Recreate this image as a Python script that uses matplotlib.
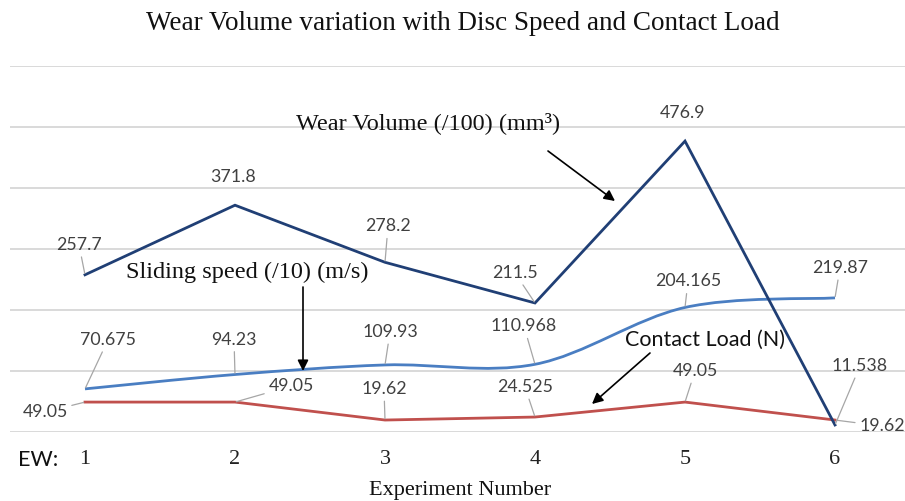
import numpy as np
import matplotlib
matplotlib.use("Agg")
import matplotlib.pyplot as plt
from matplotlib.path import Path
from matplotlib.patches import PathPatch

# ---- data ----
experiments = [1, 2, 3, 4, 5, 6]
tick_labels = ["1", "2", "3", "4", "5", "6"]
wear_volume = [257.7, 371.8, 278.2, 211.5, 476.9, 11.538]
sliding_speed = [70.675, 94.23, 109.93, 110.968, 204.165, 219.87]
contact_load = [49.05, 49.05, 19.62, 24.525, 49.05, 19.62]
wear_labels = ["257.7", "371.8", "278.2", "211.5", "476.9", "11.538"]
speed_labels = ["70.675", "94.23", "109.93", "110.968", "204.165", "219.87"]
load_labels = ["49.05", "49.05", "19.62", "24.525", "49.05", "19.62"]

W, H = 905, 501
fig = plt.figure(figsize=(W / 100, H / 100), dpi=100)

def fx(px):
    return px / W

def fy(py):
    return 1 - py / H

# axes: left 10px, right 905px, top 66px, bottom 432px
ax = fig.add_axes([fx(10), fy(432), fx(905) - fx(10), fy(66) - fy(432)])
ax.set_xlim(0.5, 0.5 + 895 / 150)
ax.set_ylim(0, 600)
ax.set_yticks(np.arange(0, 601, 100))
ax.yaxis.grid(True, color="#D9D9D9", lw=1.4)
ax.set_axisbelow(True)
for s in ax.spines.values():
    s.set_visible(False)
ax.tick_params(axis="y", left=False, labelleft=False)
ax.set_xticks(experiments)
ax.set_xticklabels(tick_labels, fontfamily="Liberation Serif", fontsize=16, color="#222222")
ax.tick_params(axis="x", length=0, pad=13)

C_WEAR = "#203F75"
C_SPEED = "#4A7EC2"
C_LOAD = "#C0504D"

# contact load (straight)
ax.plot(experiments, contact_load, color=C_LOAD, lw=2.0, solid_joinstyle="round", zorder=3)

# sliding speed: smoothed curve (Catmull-Rom style Bezier through the data)
xs = np.array(experiments, dtype=float)
ys = np.array(sliding_speed, dtype=float)
pts = np.column_stack([xs, ys])
n = len(pts)
verts = [tuple(pts[0])]
codes = [Path.MOVETO]
for i in range(n - 1):
    p0 = pts[i - 1] if i > 0 else pts[i]
    p1 = pts[i]
    p2 = pts[i + 1]
    p3 = pts[i + 2] if i + 2 < n else pts[i + 1]
    c1 = p1 + (p2 - p0) / 6.0
    c2 = p2 - (p3 - p1) / 6.0
    verts += [tuple(c1), tuple(c2), tuple(p2)]
    codes += [Path.CURVE4] * 3
ax.add_patch(PathPatch(Path(verts, codes), facecolor="none", edgecolor=C_SPEED, lw=2.0, zorder=4))

# wear volume (straight, on top)
ax.plot(experiments, wear_volume, color=C_WEAR, lw=2.0, solid_joinstyle="miter", zorder=5)

LBL_FONT = dict(fontfamily="Lato", fontsize=12.8, color="#404040")
LEADER = dict(arrowstyle="-", color="#A6A6A6", lw=0.9, shrinkA=1, shrinkB=1)

wear_off = [(-6, 30), (-2, 28), (3, 36), (-20, 30), (-2, 28), (25, 59)]
wear_lead = [True, False, True, True, False, True]
speed_off = [(23, 49), (-1, 35), (5, 33), (-11, 38), (3, 26), (5, 30)]
speed_lead = [True, True, True, True, True, True]
load_off = [(-40, -10), (56, 16), (-1, 31), (-10, 30), (10, 31), (47, -6)]
load_lead = [True, True, True, True, True, True]

def label_series(yvals, labels, offs, leads):
    for x, y, t, o, ld in zip(experiments, yvals, labels, offs, leads):
        ax.annotate(t, xy=(x, y), xytext=o, textcoords="offset pixels",
                    ha="center", va="center", zorder=6,
                    arrowprops=LEADER if ld else None, **LBL_FONT)

label_series(wear_volume, wear_labels, wear_off, wear_lead)
label_series(sliding_speed, speed_labels, speed_off, speed_lead)
label_series(contact_load, load_labels, load_off, load_lead)

# callouts with arrows (figure pixel coordinates)
ARROW = dict(arrowstyle="-|>", color="black", lw=1.2, mutation_scale=16, shrinkA=0, shrinkB=0)

def callout(text, tpos, tail, head, family, size):
    fig.text(fx(tpos[0]), fy(tpos[1]), text, ha="center", va="center",
             fontfamily=family, fontsize=size, color="#111111")
    ax.annotate("", xy=(fx(head[0]), fy(head[1])), xycoords="figure fraction",
                xytext=(fx(tail[0]), fy(tail[1])), textcoords="figure fraction",
                arrowprops=ARROW, zorder=7)

callout("Wear Volume (/100) (mm³)", (428, 123), (548, 151), (615, 201), "Liberation Serif", 17.5)
callout("Sliding speed (/10) (m/s)", (247, 272), (303, 287), (303, 371), "Liberation Serif", 17.5)
callout("Contact Load (N)", (705, 340), (650, 353), (592, 404), "Lato", 15.5)

fig.text(fx(463), fy(24), "Wear Volume variation with Disc Speed and Contact Load",
         ha="center", va="center", fontfamily="Liberation Serif", fontsize=19.5, color="#111111")
fig.text(fx(460), fy(490), "Experiment Number", ha="center", va="center",
         fontfamily="Liberation Serif", fontsize=16, color="#111111")
fig.text(fx(38), fy(460), "EW:", ha="center", va="center",
         fontfamily="Lato", fontsize=15.5, color="#111111")

fig.savefig("out.png", dpi=100)
